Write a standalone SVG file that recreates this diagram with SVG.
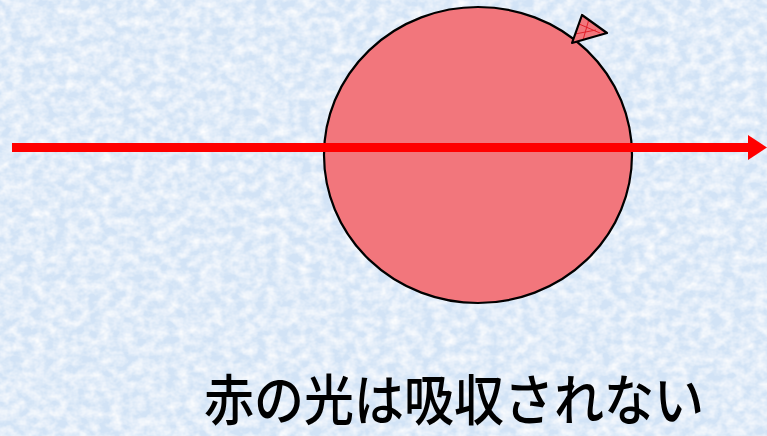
<svg xmlns="http://www.w3.org/2000/svg" width="767" height="436" viewBox="0 0 767 436">
  <defs>
    <style>
      .outline { stroke: #000; stroke-width: 2.2; stroke-linejoin: round; }
      .balloon { fill: #f2767c; }
      .ray { stroke: #ff0000; stroke-width: 9; fill: none; }
      .head { fill: #ff0000; }
      .caption { font-family: "Noto Sans CJK JP", "Noto Sans CJK SC", sans-serif; font-size: 55px; font-weight: 500; fill: #000; }
    </style>
    <!-- fine mottled pale-blue paper texture -->
    <filter id="paper" x="0" y="0" width="100%" height="100%">
      <feTurbulence type="fractalNoise" baseFrequency="0.09 0.11" numOctaves="3" seed="7" result="noise"/>
      <feColorMatrix in="noise" type="matrix"
        values="0 0 0 0 1
                0 0 0 0 1
                0 0 0 0 1
                0 0 0 1.5 -0.45" result="spots"/>
      <feComposite in="spots" in2="SourceGraphic" operator="over"/>
    </filter>
  </defs>

  <!-- background -->
  <rect id="background" x="0" y="0" width="767" height="436" fill="#d2e3f6" filter="url(#paper)"/>

  <!-- balloon -->
  <g id="balloon">
    <ellipse class="balloon outline" cx="478" cy="155" rx="154" ry="148"/>
    <g id="knot">
      <polygon class="balloon" points="582,15 607,33 572,43"/>
      <path d="M579,24 L600,33 M589,19 L583,40 M575,34 L596,30" stroke="#e0202a" stroke-width="1" fill="none"/>
      <polygon points="582,15 607,33 572,43" fill="none" class="outline"/>
    </g>
  </g>

  <!-- light ray -->
  <g id="connectors">
    <line class="ray" x1="12" y1="147.5" x2="750" y2="147.5"/>
    <polygon class="head" points="748,135 767,147.5 748,160"/>
  </g>

  <!-- caption -->
  <g id="caption">
    <text class="caption" x="204" y="420" textLength="500" lengthAdjust="spacingAndGlyphs">赤の光は吸収されない</text>
  </g>
</svg>
